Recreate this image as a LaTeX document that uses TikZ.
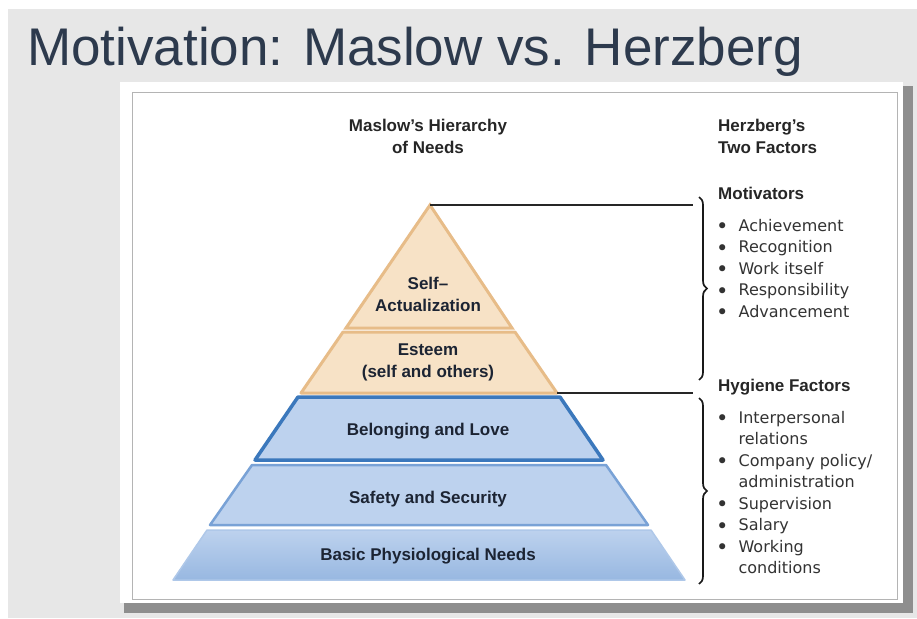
\documentclass[tikz,border=0pt]{standalone}
\usepackage{fontspec, tkz-euclide}
\usetikzlibrary{decorations.pathreplacing}
\setmainfont{Liberation Sans}
\newfontfamily\dejavu{DejaVu Sans}
\definecolor{bggray}{HTML}{E7E7E7}
\definecolor{titleblue}{HTML}{2D3A4D}
\definecolor{shadowgray}{HTML}{8E8E8E}
\definecolor{framegray}{HTML}{B4B4B4}
\definecolor{peach}{HTML}{F7E2C6}
\definecolor{peachline}{HTML}{E7BC88}
\definecolor{paleblue}{HTML}{BDD2EE}
\definecolor{midblue}{HTML}{79A2D6}
\definecolor{deepblue}{HTML}{3B78BC}
\definecolor{navytext}{HTML}{1C2433}
\newcommand{\dotmark}{\raisebox{-2.5pt}{\fontsize{21}{21}\selectfont •}}

\begin{document}
\begin{tikzpicture}[x=1pt, y=1pt,
    layer/.style={font=\bfseries\fontsize{17}{22}\selectfont, text=navytext, align=center, inner sep=0pt},
    head/.style={font=\bfseries\fontsize{17}{22}\selectfont, text=black!85, inner sep=0pt},
    item/.style={font=\dejavu\fontsize{16}{21.5}\selectfont, text=black!80, inner sep=0pt},
    connector/.style={black!85, line width=1.2pt},
    curly/.style={black!90, line width=1.7pt, decorate, decoration={brace, amplitude=8pt}}]
    \useasboundingbox (0,0) rectangle (917,-618);
    % slide background and panel
    \fill[white] (0,0) rectangle (917,-618);
    \fill[bggray] (8,-9) rectangle (917,-618);
    \fill[shadowgray] (124,-86) rectangle (913,-613);
    \fill[white] (120,-82) rectangle (903,-603);
    \draw[framegray, line width=1pt] (132,-92) rectangle (897,-599);
    \node[font=\fontsize{53}{60}\selectfont, text=titleblue, anchor=base west, inner sep=0pt] (title) at (27,-65) {Motivation: Maslow vs. Herzberg};

    % pyramid
    \tkzDefPoints{430/-205/A, 346/-328/B, 512/-328/C,
      343/-332/D, 515/-332/E, 557/-393/G, 301/-393/F,
      298/-397/H, 560/-397/I, 603/-460/J, 255/-460/K,
      252/-465/L, 606/-465/M, 648/-525/N, 210/-525/O,
      207/-530/P, 651/-530/Q, 685/-580/R, 173/-580/S}
    \tkzDrawPolygon[fill=peach, draw=peachline, line width=3pt, line join=miter](A,C,B)
    \tkzDrawPolygon[fill=peach, draw=peachline, line width=3pt](D,E,G,F)
    \tkzDrawPolygon[fill=paleblue, draw=deepblue, line width=3.5pt](H,I,J,K)
    \tkzDrawPolygon[fill=paleblue, draw=midblue, line width=2.5pt](L,M,N,O)
    \tkzDrawPolygon[top color=paleblue, bottom color=midblue!55!paleblue, draw=paleblue!80!midblue, line width=1.5pt](P,Q,R,S)

    \node[layer] (selfact) at (428,-294) {Self--\\Actualization};
    \node[layer] (esteem) at (428,-362) {Esteem\\(self and others)};
    \node[layer] (belong) at (428,-431) {Belonging and Love};
    \node[layer] (safety) at (428,-499) {Safety and Security};
    \node[layer] (basic) at (428,-556) {Basic Physiological Needs};

    % headings
    \node[head, anchor=base] (maslow) at (428,-131) {\begin{tabular}[t]{@{}c@{}}Maslow’s Hierarchy\\of Needs\end{tabular}};
    \node[head, anchor=base west] (herz) at (718,-131) {\begin{tabular}[t]{@{}l@{}}Herzberg’s\\Two Factors\end{tabular}};

    % brackets and leader lines
    \coordinate (mtop) at (693,-205);
    \coordinate (htop) at (693,-393);
    \coordinate (b1a) at (699,-197);
    \coordinate (b1b) at (699,-380);
    \coordinate (b2a) at (699,-398);
    \coordinate (b2b) at (699,-584);
    \draw[connector] (A) -- (mtop);
    \draw[connector] (G) -- (htop);
    \draw[curly] (b1a) -- (b1b);
    \draw[curly] (b2a) -- (b2b);

    % Herzberg's lists
    \node[head, anchor=base west] (motiv) at (718,-199) {Motivators};
    \node[item, anchor=base west] (motlist) at (716,-231) {\begin{tabular}[t]{@{}l@{\hspace{10pt}}l@{}}
      \dotmark & Achievement\\ \dotmark & Recognition\\ \dotmark & Work itself\\ \dotmark & Responsibility\\ \dotmark & Advancement\end{tabular}};
    \node[head, anchor=base west] (hygiene) at (718,-391) {Hygiene Factors};
    \node[item, anchor=base west] (hyglist) at (716,-423) {\begin{tabular}[t]{@{}l@{\hspace{10pt}}l@{}}
      \dotmark & Interpersonal\\ & relations\\ \dotmark & Company policy/\\ & administration\\ \dotmark & Supervision\\
      \dotmark & Salary\\ \dotmark & Working\\ & conditions\end{tabular}};
\end{tikzpicture}
\end{document}
